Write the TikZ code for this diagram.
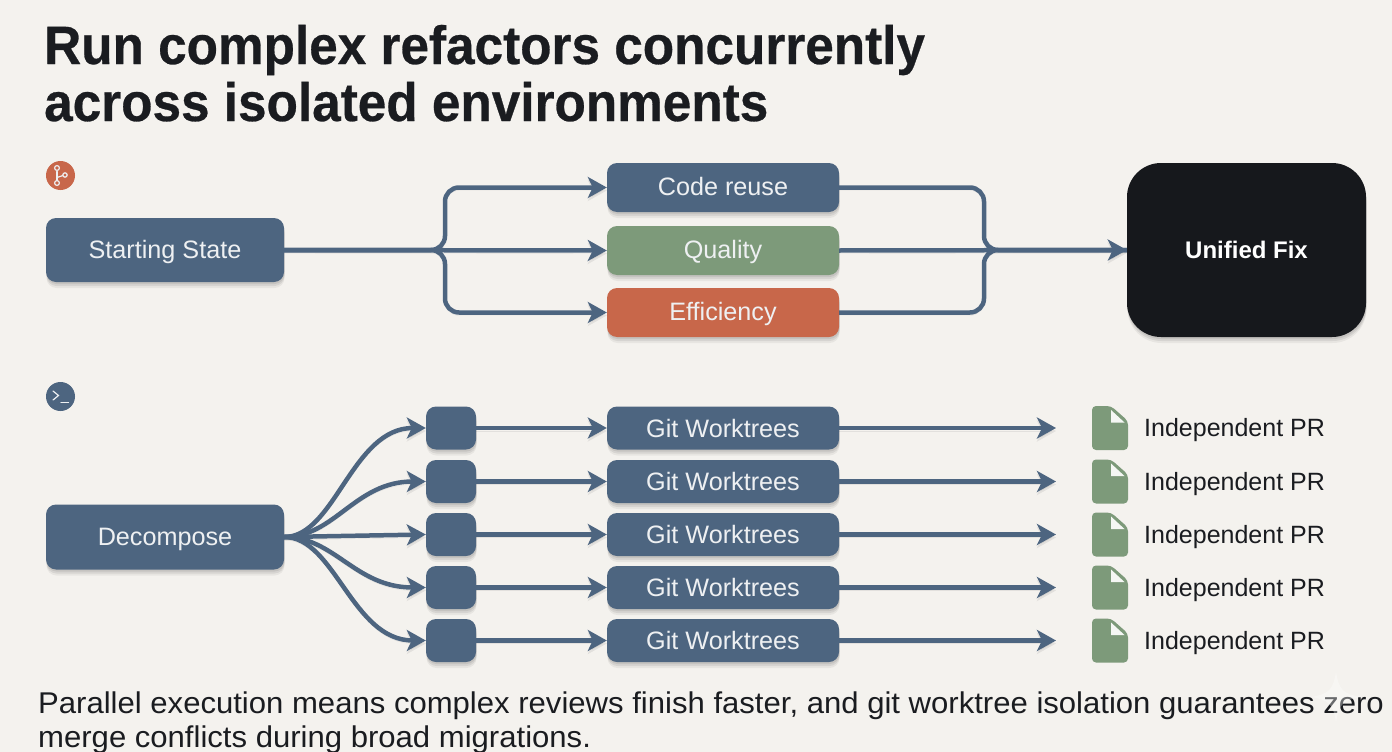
\documentclass[tikz,border=0pt]{standalone}
\usepackage{fontspec}
\setmainfont{Liberation Sans}
\newfontface\titlefont[FakeStretch=0.95,FakeBold=0.5]{Liberation Sans Bold}
\newfontface\capfont[FakeStretch=1.036]{Liberation Sans}
\usetikzlibrary{arrows.meta,shadows,calc}
\definecolor{bgc}{HTML}{F4F2EE}
\definecolor{bluec}{HTML}{4D6580}
\definecolor{greenc}{HTML}{7D9A7A}
\definecolor{redc}{HTML}{C8674A}
\definecolor{blackc}{HTML}{16181C}
\definecolor{inkc}{HTML}{1A1C20}
\definecolor{lightc}{HTML}{EEF0F2}
\tikzset{
  softshadow/.style={
    general shadow={fill=black,opacity=.05,shadow xshift=.5pt,shadow yshift=-6pt},
    general shadow={fill=black,opacity=.07,shadow xshift=.5pt,shadow yshift=-4pt},
    general shadow={fill=black,opacity=.08,shadow xshift=.5pt,shadow yshift=-2pt}},
  flowbox/.style={rounded corners=10pt,inner sep=0pt,text=lightc,softshadow,text height=20pt,text depth=4pt,font=\fontsize{25.2}{29}\selectfont},
  wide/.style={flowbox,minimum width=238pt,minimum height=64pt},
  mid/.style={flowbox,minimum width=232pt},
  tiny/.style={flowbox,minimum width=50pt,minimum height=43pt,fill=bluec},
  lineshadow/.style={preaction={draw=black,opacity=.07,transform canvas={yshift=-3pt}}},
  conn/.style={draw=bluec,line width=4.5pt,lineshadow,-{Stealth[length=19pt,width=21pt,inset=5pt]}},
  plain/.style={draw=bluec,line width=4.5pt,lineshadow},
  prlabel/.style={anchor=west,inner sep=0pt,text=inkc,text height=21pt,text depth=3.6pt,font=\fontsize{25}{30}\selectfont},
  docbody/.style={fill=greenc,rounded corners=4pt},
  iconline/.style={draw=lightc,line width=1.2pt,line cap=round},
  titletext/.style={anchor=base west,inner sep=0pt,text=inkc,font=\titlefont\fontsize{54}{60}\selectfont},
  captext/.style={anchor=base west,inner sep=0pt,text=inkc,font=\capfont\fontsize{30}{34}\selectfont},
}
\begin{document}
\begin{tikzpicture}[x=1pt,y=-1pt]
\useasboundingbox (0,0) rectangle (1392,752);
\fill[bgc] (0,0) rectangle (1392,752);

\node[titletext] (t1) at (44,64) {Run complex refactors concurrently};
\node[titletext] (t2) at (44,121) {across isolated environments};

% icons
\fill[redc] (60.5,175.5) circle (14.5);
\draw[iconline] (57,171.5) -- (57,181);
\draw[iconline] (57,177.5) .. controls (60,177.5) and (60,175.5) .. (63,175.5);
\draw[iconline,fill=redc] (57,168) circle (2.4) (57,183) circle (2.4) (65,175) circle (2.2);
\fill[bluec] (60.5,396.5) circle (14.5);
\draw[iconline] (53,391) -- (58.5,395.5) -- (53,400);
\draw[iconline] (61,402.5) -- (68.5,402.5);

% upper flow
\node[wide,fill=bluec] (start) at (165,250) {Starting State};
\node[mid,fill=bluec,minimum height=49pt] (code) at (723,187.5) {Code reuse};
\node[mid,fill=greenc,minimum height=49pt] (qual) at (723,250.5) {Quality};
\node[mid,fill=redc,minimum height=49pt] (effi) at (723,312.5) {Efficiency};
\node[flowbox,fill=blackc,minimum width=239pt,minimum height=174pt,rounded corners=34pt,text=white,font=\fontsize{24}{28}\bfseries\selectfont] (fix) at (1246.5,250) {Unified Fix};
\coordinate (fork) at (445,250);
\coordinate (join) at (984,250);
\draw[conn,rounded corners=14pt] (start.east) -- (fork) -- (fork |- code.west) -- (code.west);
\draw[conn,rounded corners=14pt] (start.east) -- (fork) -- (fork |- effi.west) -- (effi.west);
\draw[conn] (start.east) -- (qual.west);
\draw[plain,rounded corners=14pt] (code.east) -- (join |- code.east) -- (join) -- (fix.west);
\draw[plain,rounded corners=14pt] (effi.east) -- (join |- effi.east) -- (join) -- (fix.west);
\draw[conn] (qual.east) -- (fix.west);

% lower flow
\node[wide,fill=bluec,minimum height=65pt] (dec) at (165,537) {Decompose};
\foreach \i/\y in {1/428,2/481.5,3/534.5,4/587.5,5/640.5}{
  \node[tiny] (sq\i) at (451,\y) {};
  \node[mid,fill=bluec,minimum height=43pt,text height=21pt,text depth=3pt] (wt\i) at (723,\y) {Git Worktrees};
  \coordinate (end\i) at (1056,\y);
  \draw[conn] (sq\i.east) -- (wt\i.west);
  \draw[conn] (wt\i.east) -- (end\i);
  \fill[docbody] (1092,\y-22) -- (1111,\y-22) -- (1128,\y-7) -- (1128,\y+22) -- (1092,\y+22) -- cycle;
  \fill[white!92!greenc] (1111,\y-18) -- (1124.5,\y-5.5) -- (1111,\y-5.5) -- cycle;
  \node[prlabel] (pr\i) at (1144,\y) {Independent PR};
}
\draw[conn] (dec.east) .. controls (335,537) and (352,428) .. (sq1.west);
\draw[conn] (dec.east) .. controls (335,537) and (355,481.5) .. (sq2.west);
\draw[conn] (dec.east) -- (sq3.west);
\draw[conn] (dec.east) .. controls (335,537) and (355,587.5) .. (sq4.west);
\draw[conn] (dec.east) .. controls (335,537) and (352,640.5) .. (sq5.west);

% caption
\node[captext] (c1) at (38,713) {Parallel execution means complex reviews finish faster, and git worktree isolation guarantees zero};
\node[captext] (c2) at (38,747) {merge conflicts during broad migrations.};

% faint sparkle
\fill[white,opacity=.35] (1336,672) .. controls (1339,690) and (1343,694) .. (1361,697) .. controls (1343,700) and (1339,704) .. (1336,722) .. controls (1333,704) and (1329,700) .. (1311,697) .. controls (1329,694) and (1333,690) .. (1336,672) -- cycle;
\end{tikzpicture}
\end{document}
